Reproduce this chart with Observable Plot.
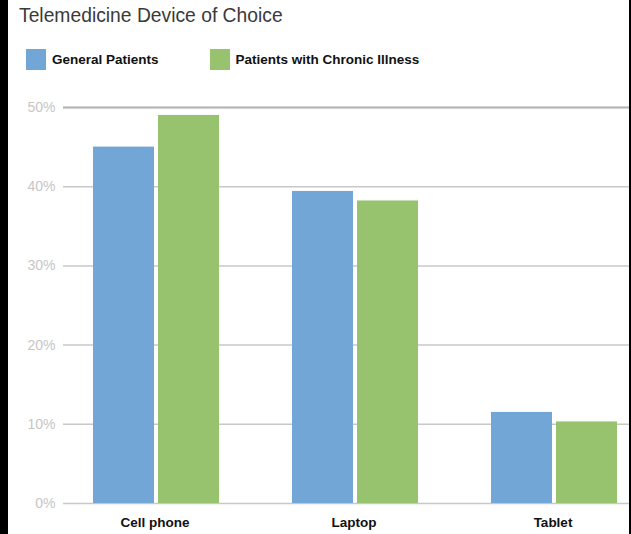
<!DOCTYPE html>
<html>
<head>
<meta charset="utf-8">
<script src="https://cdn.jsdelivr.net/npm/d3@7"></script>
<script src="https://cdn.jsdelivr.net/npm/@observablehq/plot@0.6"></script>
<style>
  html, body { margin: 0; padding: 0; background: #fff; }
  #chart {
    position: relative;
    width: 631px;
    height: 534px;
    overflow: hidden;
    font-family: "Liberation Sans", Arial, Helvetica, sans-serif;
    background: #fff;
  }
  #chart::before, #chart::after {
    content: "";
    position: absolute;
    top: 0;
    bottom: 0;
    background: #000;
    z-index: 2;
  }
  #chart::before { left: 0; width: 8px; }
  #chart::after { right: 0; width: 2px; }
  .title {
    height: 40px;
    padding-left: 19px;
    font-size: 19.3px;
    line-height: 32px;
    color: #3a3a3a;
  }
  .legend {
    height: 45px;
    display: flex;
    align-items: flex-start;
    padding-left: 26px;
    padding-top: 0px;
    box-sizing: border-box;
    font-size: 13.5px;
    font-weight: bold;
    color: #111;
  }
  .legend .item { display: flex; align-items: center; margin-top: 9px; }
  .legend .swatch { width: 20px; height: 21px; margin-right: 6px; }
  .legend .item + .item { margin-left: 51px; }
  svg { display: block; }
</style>
</head>
<body>
<div id="chart">
  <div class="title">Telemedicine Device of Choice</div>
  <div class="legend" id="legend"></div>
</div>
<script>
// Share of respondents choosing each device for telemedicine
const devices = ["Cell phone", "Laptop", "Tablet"];
const seriesNames = ["General Patients", "Patients with Chronic Illness"];
const generalPatients = [45, 39.4, 11.5];
const chronicIllness = [49, 38.2, 10.3];
const yTicks = [0, 10, 20, 30, 40, 50];
const seriesColors = ["#72a6d6", "#98c36e"];

const rows = devices.flatMap((device, i) => [
  {device, series: seriesNames[0], value: generalPatients[i]},
  {device, series: seriesNames[1], value: chronicIllness[i]}
]);

// Legend
const legend = document.getElementById("legend");
seriesNames.forEach((name, i) => {
  const item = document.createElement("div");
  item.className = "item";
  const sw = document.createElement("span");
  sw.className = "swatch";
  sw.style.background = seriesColors[i];
  const label = document.createElement("span");
  label.textContent = name;
  item.append(sw, label);
  legend.append(item);
});

const chart = Plot.plot({
  width: 631,
  height: 449,
  marginTop: 22,
  marginBottom: 31,
  marginLeft: 63,
  marginRight: -29,
  style: {fontFamily: "'Liberation Sans', Arial, Helvetica, sans-serif", background: "transparent"},
  fx: {domain: devices, padding: 0, label: null},
  x: {domain: seriesNames, paddingInner: 0.0615, paddingOuter: 0.5615, align: 0.41, axis: null},
  y: {domain: [0, 50], axis: null},
  color: {domain: seriesNames, range: seriesColors},
  marks: [
    Plot.gridY(yTicks, {stroke: "#c8c8c8", strokeOpacity: 1, strokeWidth: 1.5}),
    Plot.ruleY([50], {stroke: "#b5b5b5", strokeWidth: 2}),
    Plot.barY(rows, {fx: "device", x: "series", y: "value", fill: "series"}),
    Plot.axisY(yTicks, {
      tickSize: 0,
      tickPadding: 8,
      tickFormat: d => d + "%",
      label: null,
      fill: "#c6c6c6",
      fontSize: 14
    }),
    Plot.axisFx({
      anchor: "bottom",
      tickSize: 0,
      tickPadding: 14,
      label: null,
      fill: "#111",
      fontSize: 13.5,
      fontWeight: "bold",
      dx: -8
    })
  ]
});

document.getElementById("chart").append(chart);
</script>
</body>
</html>
